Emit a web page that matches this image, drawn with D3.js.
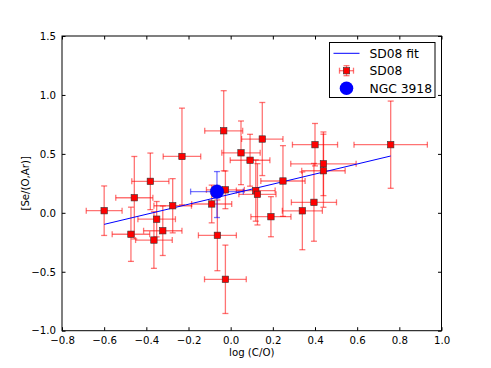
<!DOCTYPE html>
<html>
<head>
<meta charset="utf-8">
<script src="https://cdn.jsdelivr.net/npm/d3@7"></script>
<style>
  body { margin: 0; background: #fff; }
  svg { display: block; font-family: "DejaVu Sans", sans-serif; }
</style>
</head>
<body>
<div id="chart"></div>
<script>
// SD08 sample: log(C/O), [Se/(O,Ar)] and their errors
const logCO = [-0.600, -0.457, -0.473, -0.381, -0.231, -0.275, -0.351, -0.322, -0.364,
  -0.033, 0.150, 0.049, 0.092, -0.025, -0.090, 0.119, 0.127, -0.063, -0.025, 0.191,
  0.400, 0.395, 0.440, 0.440, 0.248, 0.340, 0.759];
const seOAr = [0.018, 0.128, -0.182, 0.267, 0.478, 0.060, -0.054, -0.152, -0.231,
  0.696, 0.626, 0.509, 0.446, 0.195, 0.075, 0.189, 0.157, -0.191, -0.564, -0.033,
  0.578, 0.089, 0.416, 0.357, 0.270, 0.017, 0.578];
const xErr = [0.085, 0.088, 0.089, 0.088, 0.089, 0.089, 0.089, 0.091, 0.087,
  0.090, 0.098, 0.091, 0.094, 0.090, 0.095, 0.092, 0.088, 0.090, 0.099, 0.095,
  0.107, 0.107, 0.155, 0.103, 0.105, 0.095, 0.174];
const yErr = [0.21, 0.35, 0.23, 0.24, 0.41, 0.23, 0.15, 0.21, 0.24,
  0.34, 0.31, 0.27, 0.22, 0.16, 0.16, 0.26, 0.26, 0.30, 0.29, 0.17,
  0.18, 0.33, 0.27, 0.31, 0.30, 0.33, 0.37];

// NGC 3918
const ngcX = -0.065, ngcY = 0.180, ngcXErr = 0.125, ngcYErrLow = 0.22, ngcYErrHigh = 0.17;

// linear fit end points
const fitX = [-0.60, 0.759];
const fitY = [-0.098, 0.482];

const xTicks = [-0.8, -0.6, -0.4, -0.2, 0.0, 0.2, 0.4, 0.6, 0.8, 1.0];
const yTicks = [-1.0, -0.5, 0.0, 0.5, 1.0, 1.5];
const legendLabels = ["SD08 fit", "SD08", "NGC 3918"];

const W = 491, H = 368;
const margin = { left: 62, right: 49.5, top: 36, bottom: 37.3 };
const iw = W - margin.left - margin.right;
const ih = H - margin.top - margin.bottom;

const svg = d3.select("#chart").append("svg").attr("width", W).attr("height", H);
const g = svg.append("g").attr("transform", `translate(${margin.left},${margin.top})`);

const x = d3.scaleLinear().domain([-0.8, 1.0]).range([0, iw]);
const y = d3.scaleLinear().domain([-1.0, 1.5]).range([ih, 0]);
const fmt = d3.format(".1f");

// ticks inward on all four sides
const tl = 3.5;
g.append("g").attr("transform", `translate(0,${ih})`)
  .call(d3.axisBottom(x).tickValues(xTicks).tickFormat(fmt).tickSizeInner(-tl).tickSizeOuter(0).tickPadding(6));
g.append("g")
  .call(d3.axisTop(x).tickValues(xTicks).tickFormat("").tickSizeInner(-tl).tickSizeOuter(0));
g.append("g")
  .call(d3.axisLeft(y).tickValues(yTicks).tickFormat(fmt).tickSizeInner(-tl).tickSizeOuter(0).tickPadding(6));
g.append("g").attr("transform", `translate(${iw},0)`)
  .call(d3.axisRight(y).tickValues(yTicks).tickFormat("").tickSizeInner(-tl).tickSizeOuter(0));
g.selectAll(".domain").remove();
g.selectAll(".tick line").attr("stroke", "#000");
g.selectAll(".tick text").attr("font-size", 10.2).attr("fill", "#000").attr("font-family", "DejaVu Sans");

g.append("rect").attr("width", iw).attr("height", ih)
  .attr("fill", "none").attr("stroke", "#000").attr("stroke-width", 1);

// axis labels
svg.append("text").attr("x", margin.left + iw / 2).attr("y", H - 12)
  .attr("text-anchor", "middle").attr("font-size", 10.2).text("log (C/O)");
svg.append("text")
  .attr("transform", `translate(25,${margin.top + ih / 2}) rotate(-90)`)
  .attr("text-anchor", "middle").attr("dy", "0.35em").attr("font-size", 10.2).text("[Se/(O,Ar)]");

const plot = g.append("g");
const cap = 3;
const idx = d3.range(logCO.length);

// error bars
function errorBar(sel, cx, cy, x0, x1, y0, y1, color) {
  const b = sel.append("g").attr("stroke", color).attr("stroke-opacity", 0.55).attr("stroke-width", 1.3);
  b.append("line").attr("x1", x(x0)).attr("x2", x(x1)).attr("y1", y(cy)).attr("y2", y(cy));
  b.append("line").attr("x1", x(cx)).attr("x2", x(cx)).attr("y1", y(y0)).attr("y2", y(y1));
  [x0, x1].forEach(v => b.append("line").attr("x1", x(v)).attr("x2", x(v))
    .attr("y1", y(cy) - cap).attr("y2", y(cy) + cap));
  [y0, y1].forEach(v => b.append("line").attr("x1", x(cx) - cap).attr("x2", x(cx) + cap)
    .attr("y1", y(v)).attr("y2", y(v)));
}
idx.forEach(i => errorBar(plot, logCO[i], seOAr[i], logCO[i] - xErr[i], logCO[i] + xErr[i],
  seOAr[i] - yErr[i], seOAr[i] + yErr[i], "#ff0000"));
errorBar(plot, ngcX, ngcY, ngcX - ngcXErr, ngcX + ngcXErr, ngcY - ngcYErrLow, ngcY + ngcYErrHigh, "#0000ff");

// fit line
plot.append("line")
  .attr("x1", x(fitX[0])).attr("y1", y(fitY[0]))
  .attr("x2", x(fitX[1])).attr("y2", y(fitY[1]))
  .attr("stroke", "#0000ff").attr("stroke-width", 1);

// SD08 squares
const sq = 6.4;
plot.selectAll("rect.sd08").data(idx).join("rect").attr("class", "sd08")
  .attr("x", i => x(logCO[i]) - sq / 2).attr("y", i => y(seOAr[i]) - sq / 2)
  .attr("width", sq).attr("height", sq)
  .attr("fill", "#ff0000").attr("stroke", "#333").attr("stroke-width", 0.6);

// NGC 3918
plot.append("circle").attr("cx", x(ngcX)).attr("cy", y(ngcY)).attr("r", 6.8)
  .attr("fill", "#0000ff").attr("stroke", "#0000cc").attr("stroke-width", 0.5);

// legend
const lg = svg.append("g").attr("transform", "translate(329.5,42.5)");
lg.append("rect").attr("width", 105.5).attr("height", 55)
  .attr("fill", "#fff").attr("stroke", "#000").attr("stroke-width", 1);
const rowY = [10.8, 28.2, 45.8];
lg.append("line").attr("x1", 4).attr("x2", 30).attr("y1", rowY[0]).attr("y2", rowY[0])
  .attr("stroke", "#0000ff").attr("stroke-width", 1);
const le = lg.append("g").attr("stroke", "#ff0000").attr("stroke-opacity", 0.55).attr("stroke-width", 1.3);
le.append("line").attr("x1", 10).attr("x2", 24).attr("y1", rowY[1]).attr("y2", rowY[1]);
le.append("line").attr("x1", 17).attr("x2", 17).attr("y1", rowY[1] - 5).attr("y2", rowY[1] + 5);
le.append("line").attr("x1", 10).attr("x2", 10).attr("y1", rowY[1] - cap).attr("y2", rowY[1] + cap);
le.append("line").attr("x1", 24).attr("x2", 24).attr("y1", rowY[1] - cap).attr("y2", rowY[1] + cap);
le.append("line").attr("x1", 17 - cap).attr("x2", 17 + cap).attr("y1", rowY[1] - 5).attr("y2", rowY[1] - 5);
le.append("line").attr("x1", 17 - cap).attr("x2", 17 + cap).attr("y1", rowY[1] + 5).attr("y2", rowY[1] + 5);
lg.append("rect").attr("x", 17 - sq / 2).attr("y", rowY[1] - sq / 2).attr("width", sq).attr("height", sq)
  .attr("fill", "#ff0000").attr("stroke", "#333").attr("stroke-width", 0.6);
lg.append("circle").attr("cx", 17).attr("cy", rowY[2]).attr("r", 6.8).attr("fill", "#0000ff");
lg.selectAll("text.lab").data(legendLabels).join("text").attr("class", "lab")
  .attr("x", 40).attr("y", (d, i) => rowY[i]).attr("dy", "0.36em")
  .attr("font-size", 12.3).text(d => d);
</script>
</body>
</html>
